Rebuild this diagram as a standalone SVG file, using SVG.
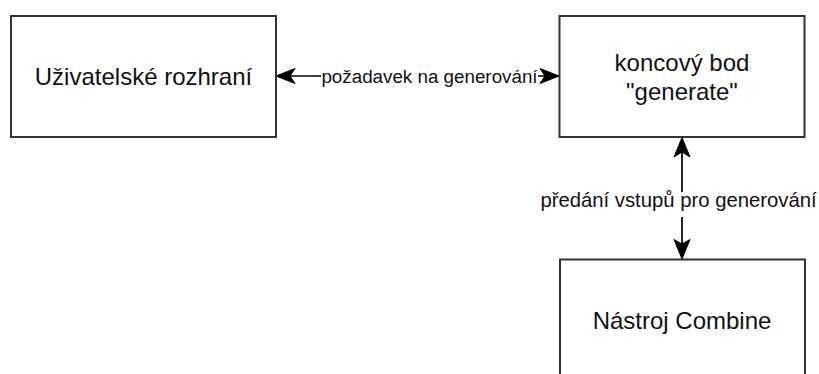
<svg xmlns="http://www.w3.org/2000/svg" width="819" height="374" viewBox="0 0 819 374">
  <style>
    .box { fill: #ffffff; stroke: #333333; stroke-width: 2; }
    .node-text { font-family: "Liberation Sans", Arial, sans-serif; font-size: 24px; fill: #111111; text-anchor: middle; }
    .edge-line { stroke: #000000; stroke-width: 1.7; fill: none; }
    .arrow { fill: #000000; stroke: #000000; stroke-width: 1; stroke-linejoin: miter; }
    .edge-label { font-family: "Liberation Sans", Arial, sans-serif; fill: #111111; text-anchor: middle; }
    .label-bg { fill: #ffffff; }
  </style>
  <rect width="819" height="374" fill="#ffffff"/>

  <g id="connectors">
    <!-- UI <-> generate endpoint -->
    <line class="edge-line" x1="290" y1="76" x2="545" y2="76"/>
    <path class="arrow" d="M276,76 L295,68.5 L290,76 L295,83.5 Z"/>
    <path class="arrow" d="M559,76 L540,68.5 L545,76 L540,83.5 Z"/>
    <rect class="label-bg" x="321" y="64" width="217" height="24"/>
    <text class="edge-label" x="429.5" y="83" font-size="18.8">požadavek na generování</text>

    <!-- generate endpoint <-> Combine tool -->
    <line class="edge-line" x1="682" y1="152" x2="682" y2="244"/>
    <path class="arrow" d="M682,137.5 L674,157 L682,152 L690,157 Z"/>
    <path class="arrow" d="M682,259 L674,239.5 L682,244 L690,239.5 Z"/>
    <rect class="label-bg" x="539" y="192" width="280" height="25"/>
    <text class="edge-label" x="678.5" y="207" font-size="20.3">předání vstupů pro generování</text>
  </g>

  <g id="node-ui">
    <rect class="box" x="11" y="16" width="265" height="121"/>
    <text class="node-text" x="143.5" y="85">Uživatelské rozhraní</text>
  </g>

  <g id="node-generate">
    <rect class="box" x="559.5" y="16" width="245" height="121"/>
    <text class="node-text" x="682" y="70.5">koncový bod</text>
    <text class="node-text" x="682" y="99.5">"generate"</text>
  </g>

  <g id="node-combine">
    <rect class="box" x="560" y="259.5" width="245" height="121"/>
    <text class="node-text" x="682" y="328.5">Nástroj Combine</text>
  </g>
</svg>
